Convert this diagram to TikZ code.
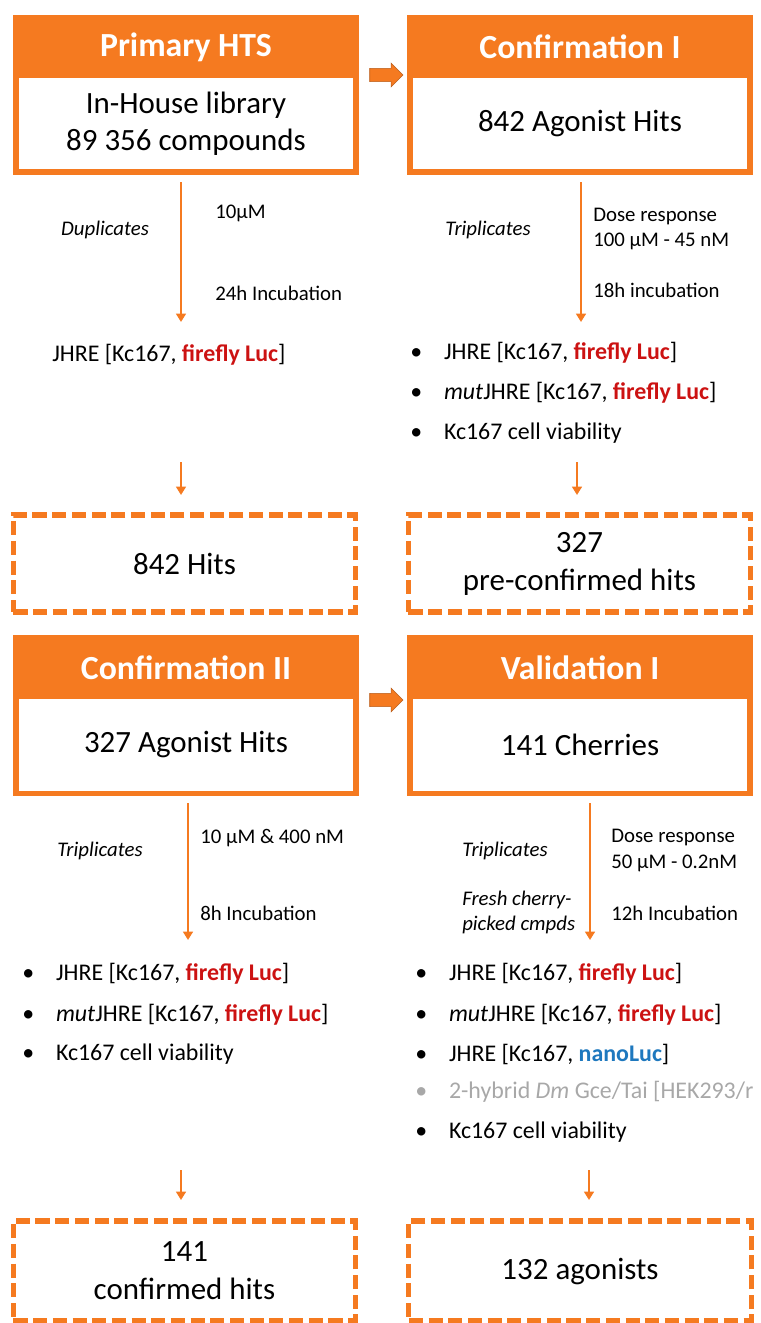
\documentclass[tikz,border=0pt]{standalone}
\usepackage{fontspec}
\setmainfont{Carlito}
\usetikzlibrary{arrows.meta,shapes.arrows}
\definecolor{hts}{RGB}{245,122,32}
\definecolor{lucred}{RGB}{204,18,18}
\definecolor{nanoblue}{RGB}{30,120,190}
\definecolor{dimgrey}{RGB}{168,168,168}
\newcommand{\fluc}{\textcolor{lucred}{\bfseries firefly Luc}}
\newcommand{\bul}{\makebox[24pt][l]{\textbullet}}

\begin{document}
\begin{tikzpicture}[x=0.025cm,y=-0.025cm]
		\tikzset{stage/.style = {rectangle,fill=hts,minimum width=8.65cm,minimum height=4cm,inner sep=0pt}}
		\tikzset{stagebody/.style = {rectangle,fill=white,minimum width=8.35cm,minimum height=2.275cm,align=center,font=\fontsize{22}{26.5}\selectfont}}
		\tikzset{stagetitle/.style = {text=white,font=\bfseries\fontsize{24}{28}\selectfont}}
		\tikzset{result/.style = {rectangle,draw=hts,line width=3.6pt,dash pattern=on 10pt off 4pt,minimum width=8.55cm,align=center,font=\fontsize{22}{27}\selectfont}}
		\tikzset{flow/.style = {draw=hts,line width=2pt,-{Triangle[width=7pt,length=6pt]}}}
		\tikzset{next/.style = {single arrow,fill=hts,draw=hts!75!black,minimum height=0.83cm,inner xsep=0pt,inner ysep=0.16cm,single arrow head extend=0.13cm}}
		\tikzset{cond/.style = {anchor=west,align=left,inner xsep=0pt,font=\fontsize{14.8}{17.8}\selectfont}}
		\tikzset{rep/.style = {font=\itshape\fontsize{14.8}{17.8}\selectfont}}
		\tikzset{assay/.style = {anchor=west,inner sep=0pt,font=\fontsize{17}{20}\selectfont}}
		\useasboundingbox (0,0) rectangle (761,1323);
		% primary screen
		\node[stage] (phts) at (186,95) {};
		\node[stagebody] (phtsbody) at (186,123.5) {In-House library\\89 356 compounds};
		\node[stagetitle] (phtstitle) at (186,47) {Primary HTS};
		\node[next] (next1) at (383,75) {};
		\node[stage] (conf1) at (580,95) {};
		\node[stagebody] (conf1body) at (580,123.5) {842 Agonist Hits};
		\node[stagetitle] (conf1title) at (580,47) {Confirmation I};
		% primary conditions
		\coordinate (p1) at (181,182);
		\coordinate (p2) at (181,322);
		\draw[flow] (p1) -- (p2);
		\node[rep] (dupl) at (105,230) {Duplicates};
		\node[cond] (conc1) at (215,213) {10µM};
		\node[cond] (inc1) at (215,293) {24h Incubation};
		\node[assay] (as1) at (52,355) {JHRE [Kc167, \fluc]};
		% confirmation I conditions
		\coordinate (c1) at (581,182);
		\coordinate (c2) at (581,322);
		\draw[flow] (c1) -- (c2);
		\node[rep] (trip1) at (488,230) {Triplicates};
		\node[cond] (dose1) at (593,229) {Dose response\\100 µM - 45 nM};
		\node[cond] (inc2) at (593,290) {18h incubation};
		\node[assay] (as2a) at (410,353) {\bul JHRE [Kc167, \fluc]};
		\node[assay] (as2b) at (410,393) {\bul \textit{mut}JHRE [Kc167, \fluc]};
		\node[assay] (as2c) at (410,433) {\bul Kc167 cell viability};
		% first results
		\coordinate (r1) at (181,462);
		\coordinate (r2) at (181,495);
		\draw[flow] (r1) -- (r2);
		\coordinate (r3) at (577,462);
		\coordinate (r4) at (577,495);
		\draw[flow] (r3) -- (r4);
		\node[result,minimum height=2.425cm] (hits) at (184.5,563.5) {842 Hits};
		\node[result,minimum height=2.425cm] (prehits) at (579.5,563.5) {327\\pre-confirmed hits};
		% second row of stages
		\node[stage] (conf2) at (186,715.5) {};
		\node[stagebody] (conf2body) at (186,745) {327 Agonist Hits};
		\node[stagetitle] (conf2title) at (186,668) {Confirmation II};
		\node[next] (next2) at (383,700) {};
		\node[stage] (val1) at (580,715.5) {};
		\node[stagebody] (val1body) at (580,745) {141 Cherries};
		\node[stagetitle] (val1title) at (580,668) {Validation I};
		% confirmation II conditions
		\coordinate (k1) at (188,803);
		\coordinate (k2) at (188,940);
		\draw[flow] (k1) -- (k2);
		\node[rep] (trip2) at (100,851) {Triplicates};
		\node[cond] (conc2) at (200,838) {10 µM \& 400 nM};
		\node[cond] (inc3) at (200,913) {8h Incubation};
		\node[assay] (as3a) at (22,974) {\bul JHRE [Kc167, \fluc]};
		\node[assay] (as3b) at (22,1015) {\bul \textit{mut}JHRE [Kc167, \fluc]};
		\node[assay] (as3c) at (22,1054) {\bul Kc167 cell viability};
		% validation conditions
		\coordinate (v1) at (590,803);
		\coordinate (v2) at (590,940);
		\draw[flow] (v1) -- (v2);
		\node[rep] (trip3) at (505,851) {Triplicates};
		\node[rep,anchor=west,align=left,inner xsep=0pt] (fresh) at (462,912.5) {Fresh cherry-\\picked cmpds};
		\node[cond] (dose2) at (611,850.5) {Dose response\\50 µM - 0.2nM};
		\node[cond] (inc4) at (611,913) {12h Incubation};
		\node[assay] (as4a) at (415,974) {\bul JHRE [Kc167, \fluc]};
		\node[assay] (as4b) at (415,1015) {\bul \textit{mut}JHRE [Kc167, \fluc]};
		\node[assay] (as4c) at (415,1054) {\bul JHRE [Kc167, \textcolor{nanoblue}{\bfseries nanoLuc}]};
		\node[assay,text=dimgrey] (as4d) at (415,1092) {\bul 2-hybrid \textit{Dm} Gce/Tai [HEK293/r};
		\node[assay] (as4e) at (415,1132) {\bul Kc167 cell viability};
		% final results
		\coordinate (f1) at (181,1170);
		\coordinate (f2) at (181,1200);
		\draw[flow] (f1) -- (f2);
		\coordinate (f3) at (589,1170);
		\coordinate (f4) at (589,1200);
		\draw[flow] (f3) -- (f4);
		\node[result,minimum height=2.5cm] (confhits) at (184.5,1271) {141\\confirmed hits};
		\node[result,minimum height=2.5cm] (agon) at (580,1271) {132 agonists};
	\end{tikzpicture}
\end{document}
